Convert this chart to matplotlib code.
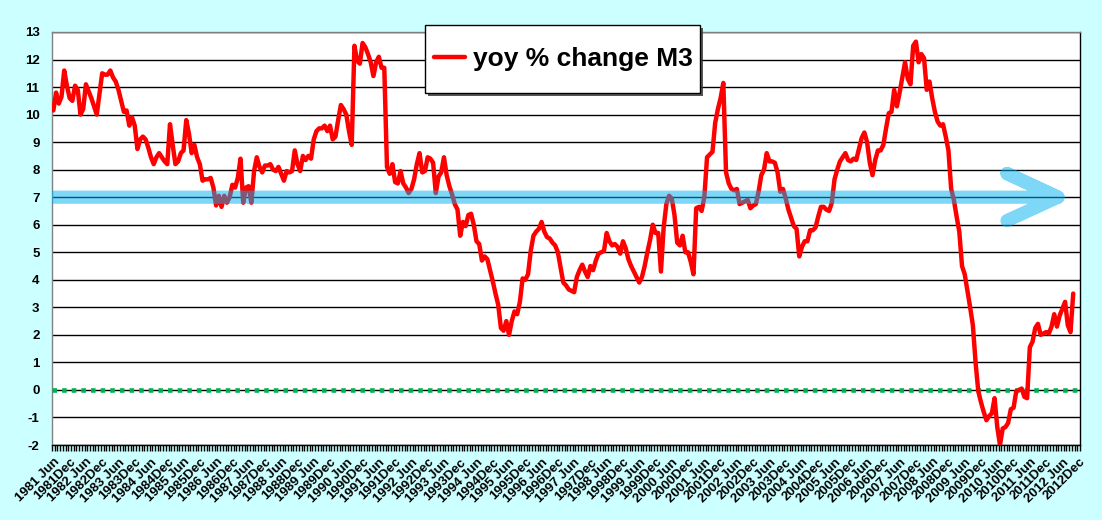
import matplotlib
matplotlib.use('Agg')
import matplotlib.pyplot as plt
import numpy as np
from matplotlib.patches import Rectangle
from matplotlib.transforms import blended_transform_factory
from matplotlib.ticker import FixedLocator, MultipleLocator

plt.rcParams['font.family'] = ['Liberation Sans', 'DejaVu Sans']
plt.rcParams['axes.unicode_minus'] = False

# ---------------- data: yoy % change of M3, monthly, 1981 Jun .. 2012 Oct ----------------
m3_1981 = [10.15, 10.8, 10.4, 10.65, 11.6, 11.05, 10.6]                                  # Jun-Dec
m3_1982 = [10.5, 11.05, 10.9, 10.0, 10.2, 11.1, 10.85, 10.6, 10.3, 10.0, 10.75, 11.5]
m3_1983 = [11.45, 11.45, 11.6, 11.35, 11.2, 10.9, 10.5, 10.1, 10.15, 9.6, 9.9, 9.6]
m3_1984 = [8.75, 9.1, 9.2, 9.1, 8.8, 8.45, 8.2, 8.45, 8.6, 8.45, 8.3, 8.2]
m3_1985 = [9.65, 8.9, 8.2, 8.3, 8.6, 8.7, 9.8, 9.3, 8.6, 8.9, 8.45, 8.2]
m3_1986 = [7.6, 7.65, 7.65, 7.7, 7.35, 6.7, 7.05, 6.65, 7.05, 6.8, 7.0, 7.45]
m3_1987 = [7.35, 7.7, 8.4, 6.8, 7.35, 7.4, 6.8, 7.95, 8.45, 8.1, 7.9, 8.15]
m3_1988 = [8.15, 8.2, 8.0, 7.95, 8.1, 7.85, 7.6, 7.95, 7.9, 7.95, 8.7, 8.2]
m3_1989 = [7.95, 8.5, 8.35, 8.5, 8.4, 9.1, 9.4, 9.5, 9.5, 9.6, 9.4, 9.6]
m3_1990 = [9.1, 9.2, 9.8, 10.35, 10.2, 10.0, 9.4, 8.9, 12.5, 11.95, 11.85, 12.6]
m3_1991 = [12.45, 12.2, 11.9, 11.4, 11.9, 12.1, 11.7, 11.7, 8.1, 7.85, 8.2, 7.55]
m3_1992 = [7.5, 7.95, 7.5, 7.35, 7.15, 7.3, 7.65, 8.2, 8.6, 7.9, 7.95, 8.45]
m3_1993 = [8.4, 8.25, 7.15, 7.75, 7.9, 8.45, 7.8, 7.4, 7.1, 6.75, 6.55, 5.6]
m3_1994 = [6.1, 5.95, 6.35, 6.4, 6.0, 5.4, 5.3, 4.7, 4.85, 4.75, 4.35, 3.95]
m3_1995 = [3.5, 3.1, 2.25, 2.15, 2.5, 2.0, 2.5, 2.85, 2.75, 3.2, 4.05, 4.0]
m3_1996 = [4.2, 5.05, 5.6, 5.75, 5.85, 6.1, 5.75, 5.55, 5.5, 5.35, 5.25, 5.0]
m3_1997 = [4.45, 3.9, 3.8, 3.65, 3.6, 3.55, 4.1, 4.35, 4.55, 4.3, 4.1, 4.5]
m3_1998 = [4.35, 4.7, 4.95, 5.0, 5.05, 5.7, 5.4, 5.25, 5.3, 5.2, 4.95, 5.4]
m3_1999 = [5.15, 4.75, 4.5, 4.3, 4.1, 3.9, 4.1, 4.5, 5.0, 5.45, 6.0, 5.7]
m3_2000 = [5.7, 4.3, 5.9, 6.75, 7.05, 6.95, 6.35, 5.35, 5.25, 5.6, 5.0, 5.0]
m3_2001 = [4.65, 4.2, 6.6, 6.65, 6.5, 7.0, 8.45, 8.55, 8.65, 9.7, 10.2, 10.6]
m3_2002 = [11.15, 7.9, 7.5, 7.3, 7.25, 7.3, 6.75, 6.8, 6.85, 6.9, 6.6, 6.7]
m3_2003 = [6.75, 7.2, 7.8, 8.0, 8.6, 8.3, 8.3, 8.25, 7.9, 7.2, 7.3, 6.95]
m3_2004 = [6.55, 6.25, 5.95, 5.85, 4.85, 5.2, 5.4, 5.4, 5.8, 5.8, 5.9, 6.3]
m3_2005 = [6.65, 6.65, 6.55, 6.5, 6.8, 7.65, 8.0, 8.3, 8.45, 8.6, 8.35, 8.3]
m3_2006 = [8.4, 8.35, 8.75, 9.15, 9.35, 9.0, 8.25, 7.8, 8.35, 8.7, 8.7, 8.9]
m3_2007 = [9.5, 10.05, 10.1, 10.9, 10.3, 10.8, 11.35, 11.9, 11.3, 11.1, 12.5, 12.65]
m3_2008 = [11.9, 12.2, 12.05, 10.9, 11.2, 10.6, 10.1, 9.75, 9.6, 9.65, 9.2, 8.7]
m3_2009 = [7.3, 6.9, 6.3, 5.75, 4.5, 4.2, 3.6, 3.0, 2.35, 1.0, -0.05, -0.45]
m3_2010 = [-0.8, -1.1, -0.95, -0.85, -0.3, -1.35, -2.0, -1.4, -1.35, -1.2, -0.7, -0.65]
m3_2011 = [-0.05, 0.0, 0.05, -0.25, -0.3, 1.55, 1.75, 2.25, 2.4, 2.0, 2.05, 2.1]
m3_2012 = [2.05, 2.3, 2.75, 2.3, 2.7, 2.95, 3.2, 2.35, 2.1, 3.5]                          # Jan-Oct

m3 = (m3_1981 + m3_1982 + m3_1983 + m3_1984 + m3_1985 + m3_1986 + m3_1987 + m3_1988 +
      m3_1989 + m3_1990 + m3_1991 + m3_1992 + m3_1993 + m3_1994 + m3_1995 + m3_1996 +
      m3_1997 + m3_1998 + m3_1999 + m3_2000 + m3_2001 + m3_2002 + m3_2003 + m3_2004 +
      m3_2005 + m3_2006 + m3_2007 + m3_2008 + m3_2009 + m3_2010 + m3_2011 + m3_2012)

series_label = 'yoy % change M3'
reference_level = 7        # the blue arrow
zero_level = 0

# category axis: months 1981 Jun .. 2012 Dec
categories = []
for yr in range(1981, 2013):
    for mo in range(1, 13):
        if yr == 1981 and mo < 6:
            continue
        categories.append((yr, mo))

tick_idx = [k for k, (yr, mo) in enumerate(categories) if mo in (6, 12)]
tick_labels = [f"{categories[k][0]} Jun" if categories[k][1] == 6 else f"{categories[k][0]}Dec"
               for k in tick_idx]

# ---------------- figure ----------------
W, H = 1102, 520
fig = plt.figure(figsize=(W / 100, H / 100), dpi=100, facecolor='#CCFFFF')
ax = fig.add_axes([52 / W, 1 - 445 / H, 1028 / W, 413 / H])
ax.set_facecolor('white')

n_cat = len(categories)
x = np.arange(len(m3))
ax.set_xlim(-0.5, n_cat - 0.5)
ax.set_ylim(-2, 13)

ax.yaxis.set_major_locator(MultipleLocator(1))
ax.grid(axis='y', color='black', lw=1.0, zorder=1)
ax.set_axisbelow(True)

ax.axhline(zero_level, color='#00B050', lw=3.3, ls=(0, (1, 1.1)),
           dash_capstyle='butt', zorder=3)
line, = ax.plot(x, m3, color='#FF0000', lw=3.2, solid_joinstyle='round',
                solid_capstyle='round', zorder=4, label=series_label)

# blue arrow (semi-transparent, drawn over the line)
trans = blended_transform_factory(ax.transAxes, ax.transData)
tip, arm = 0.9786, 0.929
ax.plot([0, tip, arm, tip, arm],
        [reference_level, reference_level, reference_level + 0.86,
         reference_level, reference_level - 0.85],
        transform=trans, color='#00B0F0', alpha=0.5, lw=9.5,
        solid_capstyle='round', solid_joinstyle='round', zorder=5)

# x axis ticks / labels
ax.xaxis.set_major_locator(FixedLocator(tick_idx))
ax.set_xticklabels(tick_labels, rotation=45, ha='right', va='top',
                   rotation_mode='anchor', fontsize=9.5, fontweight='bold')
ax.xaxis.set_minor_locator(FixedLocator(np.arange(n_cat + 1) - 0.5))
ax.tick_params(axis='x', which='major', length=0, pad=8)
ax.tick_params(axis='x', which='minor', length=4, width=1, color='black', direction='out')

ax.tick_params(axis='y', length=0, pad=9)
for t in ax.get_yticklabels():
    t.set_fontweight('bold')
    t.set_fontsize(9.5)

for side, col in (('left', '#808080'), ('top', '#808080'),
                  ('right', 'black'), ('bottom', 'black')):
    ax.spines[side].set_color(col)
    ax.spines[side].set_linewidth(1.0)

# legend box (frame + shadow) and legend entry
bx0, by0, bw, bh = 425, 25, 275, 68       # pixels, top-left origin
shadow_off = 3
fig.add_artist(Rectangle(((bx0 + shadow_off) / W, 1 - (by0 + bh + shadow_off) / H), bw / W, bh / H,
                         transform=fig.transFigure, facecolor='#3a3a3a', edgecolor='none',
                         alpha=0.85, zorder=3))
fig.add_artist(Rectangle((bx0 / W, 1 - (by0 + bh) / H), bw / W, bh / H,
                         transform=fig.transFigure, facecolor='white', edgecolor='black',
                         lw=1.0, zorder=4))
leg = fig.legend(handles=[line], labels=[series_label], loc='center',
                 bbox_to_anchor=((bx0 + bw / 2 + 1) / W, 1 - (by0 + bh / 2) / H),
                 bbox_transform=fig.transFigure, borderaxespad=0, frameon=False,
                 prop={'weight': 'bold', 'size': 19}, handlelength=1.15,
                 handletextpad=0.3, borderpad=0.2)
leg.set_zorder(5)

fig.savefig('out.png', dpi=100, facecolor=fig.get_facecolor())
